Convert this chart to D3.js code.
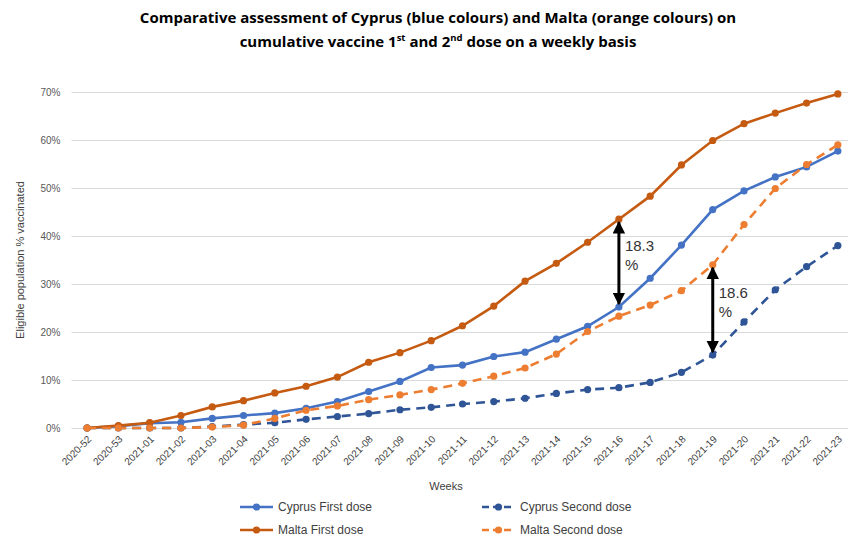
<!DOCTYPE html>
<html lang="en">
<head>
<meta charset="utf-8">
<script src="https://cdn.jsdelivr.net/npm/d3@7"></script>
<style>
  body { margin: 0; background: #fff; }
  svg { display: block; }
</style>
</head>
<body>
<div class="chart"></div>
<script>
// weeks on the x axis
const weeks = ["2020-52", "2020-53", "2021-01", "2021-02", "2021-03", "2021-04", "2021-05",
    "2021-06", "2021-07", "2021-08", "2021-09", "2021-10", "2021-11", "2021-12", "2021-13",
    "2021-14", "2021-15", "2021-16", "2021-17", "2021-18", "2021-19", "2021-20", "2021-21",
    "2021-22", "2021-23"];

// % of eligible population vaccinated
const cyprus_first = [0, 0.4, 1.0, 1.2, 2.0, 2.6, 3.1, 4.1, 5.5, 7.6, 9.7, 12.6, 13.1, 14.9,
    15.8, 18.5, 21.2, 25.2, 31.2, 38.1, 45.5, 49.4, 52.3, 54.4, 57.7];
const cyprus_second = [0, 0, 0, 0, 0.3, 0.7, 1.1, 1.8, 2.4, 3.0, 3.8, 4.3, 5.0, 5.5, 6.2,
    7.2, 8.0, 8.4, 9.5, 11.6, 15.2, 22.1, 28.8, 33.6, 38.0];
const malta_first = [0, 0.5, 1.1, 2.6, 4.4, 5.7, 7.3, 8.7, 10.6, 13.7, 15.7, 18.2, 21.3, 25.4,
    30.6, 34.3, 38.7, 43.5, 48.3, 54.8, 59.9, 63.4, 65.6, 67.7, 69.6];
const malta_second = [0, 0, 0, 0, 0.2, 0.6, 2.0, 3.7, 4.6, 5.9, 6.9, 8.0, 9.3, 10.8, 12.5,
    15.4, 20.1, 23.3, 25.6, 28.6, 34.0, 42.4, 49.9, 54.9, 59.0];

const y_ticks = [0, 10, 20, 30, 40, 50, 60, 70];

// gap arrows: [week, from series, to series, label]
const gaps = [
    ["2021-16", malta_first, cyprus_first, "18.3"],
    ["2021-19", malta_second, cyprus_second, "18.6"],
];

const series = [
    { name: "Cyprus First dose", values: cyprus_first, color: "#4472c4", dash: null },
    { name: "Cyprus Second dose", values: cyprus_second, color: "#2f5597", dash: "9,6" },
    { name: "Malta First dose", values: malta_first, color: "#c55a11", dash: null },
    { name: "Malta Second dose", values: malta_second, color: "#ed7d31", dash: "9,6" },
];

const W = 848, H = 541;
const svg = d3.select(".chart").append("svg")
    .attr("width", W)
    .attr("height", H)
    .attr("font-family", "'Liberation Sans', Arial, sans-serif");

const x = d3.scalePoint().domain(weeks).range([71.5, 853.5]).padding(0.5);
const y = d3.scaleLinear().domain([0, 70]).range([428, 92]);

// title
const title = svg.append("text")
    .attr("text-anchor", "middle")
    .attr("font-family", "'Open Sans', sans-serif")
    .attr("font-weight", "bold")
    .attr("font-size", "15px")
    .attr("fill", "#000");
title.append("tspan").attr("x", 438).attr("y", 23)
    .text("Comparative assessment of Cyprus (blue colours) and Malta (orange colours) on");
const t2 = title.append("tspan").attr("x", 438).attr("y", 47);
t2.append("tspan").text("cumulative vaccine 1");
t2.append("tspan").attr("font-size", "9.5px").attr("dy", -6).text("st");
t2.append("tspan").attr("dy", 6).text(" and 2");
t2.append("tspan").attr("font-size", "9.5px").attr("dy", -6).text("nd");
t2.append("tspan").attr("dy", 6).text(" dose on a weekly basis");

// grid + y axis
svg.append("g")
    .attr("transform", "translate(71.5,0)")
    .call(d3.axisLeft(y).tickValues(y_ticks).tickSize(-(W - 71.5)).tickFormat(d => d + "%"))
    .call(g => g.select(".domain").remove())
    .call(g => g.selectAll(".tick line").attr("stroke", "#d9d9d9").attr("stroke-width", 1))
    .call(g => g.selectAll(".tick text")
        .attr("x", -11)
        .attr("fill", "#595959")
        .attr("font-size", "10px"));

svg.append("text")
    .attr("transform", "translate(24,260) rotate(-90)")
    .attr("text-anchor", "middle")
    .attr("fill", "#404040")
    .attr("font-size", "11px")
    .text("Eligible population % vaccinated");

// x labels
svg.append("g")
    .selectAll("text")
    .data(weeks)
    .join("text")
    .attr("transform", d => `translate(${x(d) + 3},${438}) rotate(-45)`)
    .attr("text-anchor", "end")
    .attr("dominant-baseline", "middle")
    .attr("fill", "#404040")
    .attr("font-size", "10px")
    .text(d => d);

svg.append("text")
    .attr("x", 446)
    .attr("y", 490)
    .attr("text-anchor", "middle")
    .attr("fill", "#404040")
    .attr("font-size", "11px")
    .text("Weeks");

// lines
const line = d3.line()
    .x((d, i) => x(weeks[i]))
    .y(d => y(d));

series.forEach(s => {
    const g = svg.append("g");
    g.append("path")
        .attr("d", line(s.values))
        .attr("fill", "none")
        .attr("stroke", s.color)
        .attr("stroke-width", 2.6)
        .attr("stroke-dasharray", s.dash);
    g.selectAll("circle")
        .data(s.values)
        .join("circle")
        .attr("cx", (d, i) => x(weeks[i]))
        .attr("cy", d => y(d))
        .attr("r", 3.6)
        .attr("fill", s.color);
});

// arrows
const defs = svg.append("defs");
defs.append("marker")
    .attr("id", "head")
    .attr("viewBox", "0 0 10 10")
    .attr("refX", 9)
    .attr("refY", 5)
    .attr("markerWidth", 4.2)
    .attr("markerHeight", 4.2)
    .attr("markerUnits", "strokeWidth")
    .attr("orient", "auto-start-reverse")
    .append("path")
    .attr("d", "M0,0 L10,5 L0,10 z")
    .attr("fill", "#000");

gaps.forEach(([wk, top, bottom, label]) => {
    const i = weeks.indexOf(wk);
    const xx = x(wk);
    const y0 = y(top[i]) + 3;
    const y1 = y(bottom[i]) - 3;
    svg.append("line")
        .attr("x1", xx).attr("x2", xx)
        .attr("y1", y0).attr("y2", y1)
        .attr("stroke", "#000")
        .attr("stroke-width", 3)
        .attr("marker-start", "url(#head)")
        .attr("marker-end", "url(#head)");
    const mid = (y0 + y1) / 2;
    const t = svg.append("text")
        .attr("fill", "#333")
        .attr("font-size", "15px");
    t.append("tspan").attr("x", xx + 6).attr("y", mid - 12).text(label);
    t.append("tspan").attr("x", xx + 6).attr("y", mid + 7).text("%");
});

// legend
const legend = [
    [series[0], 240, 507],
    [series[1], 482, 507],
    [series[2], 240, 530],
    [series[3], 482, 530],
];
legend.forEach(([s, lx, ly]) => {
    const g = svg.append("g").attr("transform", `translate(${lx},${ly})`);
    g.append("line")
        .attr("x1", 0).attr("x2", 33)
        .attr("stroke", s.color)
        .attr("stroke-width", 2.6)
        .attr("stroke-dasharray", s.dash ? "7,4" : null);
    g.append("circle").attr("cx", 16.5).attr("r", 3.6).attr("fill", s.color);
    g.append("text")
        .attr("x", 38)
        .attr("dy", "0.35em")
        .attr("fill", "#404040")
        .attr("font-size", "12px")
        .text(s.name);
});
</script>
</body>
</html>
